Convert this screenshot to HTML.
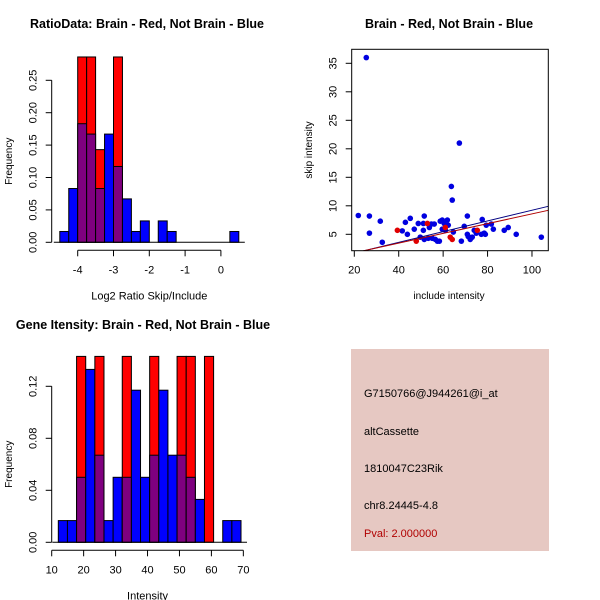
<!DOCTYPE html>
<html><head><meta charset="utf-8"><style>
body{margin:0;background:#fff}
svg{display:block;font-family:"Liberation Sans",sans-serif}
</style></head><body>
<svg id="s" width="600" height="600" viewBox="0 0 600 600">
<rect width="600" height="600" fill="#fff"/>
<text x="147" y="28" text-anchor="middle" font-size="12.5" font-weight="bold">RatioData: Brain - Red, Not Brain - Blue</text>
<text x="449" y="28" text-anchor="middle" font-size="12.5" font-weight="bold">Brain - Red, Not Brain - Blue</text>
<text x="143" y="329" text-anchor="middle" font-size="12.5" font-weight="bold">Gene Itensity: Brain - Red, Not Brain - Blue</text>
<g>
<rect x="351" y="349" width="198" height="202" fill="#e6c8c2"/>
<text x="364" y="397" font-size="11">G7150766@J944261@i_at</text>
<text x="364" y="435" font-size="11">altCassette</text>
<text x="364" y="472" font-size="11">1810047C23Rik</text>
<text x="364" y="509" font-size="11">chr8.24445-4.8</text>
<text x="364" y="537" font-size="11" fill="#b00000">Pval: 2.000000</text>
</g>
</svg>
<script>
// Ratio histogram data
const ratioBinStart = -4.5, ratioBinWidth = 0.25;
const ratioBlue = [0.0167,0.083,0.183,0.167,0.083,0.167,0.117,0.067,0.0167,0.033,0,0.033,0.0167,0,0,0,0,0,0,0.0167];
const ratioRed  = [0,0,0.286,0.286,0.143,0,0.286,0,0,0,0,0,0,0,0,0,0,0,0,0];
const ratioXTicks = [-4,-3,-2,-1,0];
const ratioYTicks = ["0.00","0.05","0.10","0.15","0.20","0.25"];
// Intensity histogram data
const intBinStart = 12.07, intBinWidth = 2.86;
const intBlue = [0.0167,0.0167,0.05,0.133,0.067,0.0167,0.05,0.05,0.117,0.05,0.067,0.117,0.067,0.067,0.05,0.033,0,0,0.0167,0.0167];
const intRed  = [0,0,0.143,0,0.143,0,0,0.143,0,0,0.143,0,0,0.143,0.143,0,0.143,0,0,0];
const intXTicks = [10,20,30,40,50,60,70];
const intYTicks = ["0.00","0.04","0.08","0.12"];
// Scatter data
const blueX = [21.8,25.4,26.8,26.8,31.7,32.6,41.6,43,43.9,45.2,47,48.8,49.7,51.1,51.5,51.1,51.5,53.3,53.8,54.7,55.1,56,56.5,57.4,58.3,58.7,59.6,59.6,60.5,61,61.9,62.3,63.7,64.1,64.6,67.3,68.2,69.5,70.9,70.9,71.3,72.2,73.1,74,74.9,77.6,77.2,78.5,79,79.4,81.7,82.6,87.5,89.3,92.9,104.2];
const blueY = [8.3,36,8.2,5.2,7.3,3.6,5.6,7.1,5,7.8,5.9,6.9,4.5,6.9,8.2,5.7,4.1,4.3,6.2,6.8,4.3,6.8,4.1,3.8,3.8,7.3,7.5,5.9,6.9,5.7,7.5,6.6,13.4,11,5.4,21,3.8,6.4,8.2,5,4.6,4.1,4.5,5.7,5.2,7.6,5,5.2,5,6.6,6.8,5.9,5.7,6.2,5,4.5];
const redX = [39.4,47.9,52.9,61,63.2,64.1,75.4];
const redY = [5.7,3.8,6.9,6.2,4.5,4.1,5.7];
const blueFit = [-0.18,0.094];
const redFit = [0.04,0.0854];
const scXTicks = [20,40,60,80,100];
const scYTicks = [5,10,15,20,25,30,35];

const NS="http://www.w3.org/2000/svg", svg=document.getElementById('s');
function mk(tag,attrs,parent){const e=document.createElementNS(NS,tag);for(const k in attrs)e.setAttribute(k,attrs[k]);(parent||svg).appendChild(e);return e;}
function txt(x,y,s,attrs,parent){const e=mk('text',Object.assign({x:x,y:y,'font-size':11,'text-anchor':'middle'},attrs||{}),parent);e.textContent=s;return e;}

function hist(o){
  const g=mk('g',{});
  
  
  const X=v=>o.x0+(v-o.xv0)*o.xs, Y=v=>o.base-v*o.ys;
  for(let i=0;i<o.blue.length;i++){
    const a=o.start+i*o.w, b=a+o.w, bl=o.blue[i], rd=o.red[i];
    const hi=Math.max(bl,rd), lo=Math.min(bl,rd);
    if(hi<=0) continue;
    const r=mk('rect',{x:X(a),y:Y(hi),width:X(b)-X(a),height:Y(0)-Y(hi),fill:rd>bl?'#ff0000':'#0000ff',stroke:'#000','stroke-width':1},g);
    
    
    if(lo>0){
      const p=mk('rect',{x:X(a),y:Y(lo),width:X(b)-X(a),height:Y(0)-Y(lo),fill:'#7f007f',stroke:'#000','stroke-width':1},g);
      
      
    }
  }
  mk('line',{x1:X(o.start)-6,x2:X(o.start+o.blue.length*o.w)+6,y1:o.base,y2:o.base,stroke:'#000'},g);
  const xa=mk('g',{},g);
  
  
  const xt=o.xticks, ay=o.base+8;
  mk('line',{x1:X(xt[0]),x2:X(xt[xt.length-1]),y1:ay,y2:ay,stroke:'#000'},xa);
  xt.forEach(t=>{mk('line',{x1:X(t),x2:X(t),y1:ay,y2:ay+6,stroke:'#000'},xa);txt(X(t),ay+23,String(t),{},xa);});
  txt((X(xt[0])+X(xt[xt.length-1]))/2,o.base+57,o.xlab,{'font-size':11},xa);
  const ya=mk('g',{},g);
  
  
  const yv=o.yticks.map(Number), ax=o.yaxisX;
  mk('line',{x1:ax,x2:ax,y1:Y(yv[0]),y2:Y(yv[yv.length-1]),stroke:'#000'},ya);
  o.yticks.forEach(t=>{const y=Y(Number(t));mk('line',{x1:ax-6,x2:ax,y1:y,y2:y,stroke:'#000'},ya);txt(ax-15,y,t,{transform:`rotate(-90 ${ax-15} ${y})`},ya);});
  const my=(Y(yv[0])+Y(yv[yv.length-1]))/2;
  txt(12,my,'Frequency',{'font-size':10,transform:`rotate(-90 12 ${my})`},ya);
}
hist({name:'ratio-histogram',blue:ratioBlue,red:ratioRed,start:ratioBinStart,w:ratioBinWidth,x0:77.7,xv0:-4,xs:35.8,base:242.3,ys:648,xticks:ratioXTicks,yticks:ratioYTicks,yaxisX:51.7,xlab:'Log2 Ratio Skip/Include'});
hist({name:'intensity-histogram',blue:intBlue,red:intRed,start:intBinStart,w:intBinWidth,x0:51.7,xv0:10,xs:3.194,base:542.3,ys:1300,xticks:intXTicks,yticks:intYTicks,yaxisX:51.7,xlab:'Intensity'});

(function(){
  const g=mk('g',{});
  
  
  const L=351.7,R=548.3,T=49.3,B=250.7;
  const X=v=>354.3+(v-20)*2.221, Y=v=>234.3-(v-5)*5.7;
  const cp=mk('clipPath',{id:'cp'},g);
  mk('rect',{x:L,y:T,width:R-L,height:B-T},cp);
  blueX.forEach((x,i)=>{const c=mk('circle',{cx:X(x),cy:Y(blueY[i]),r:2.8,fill:'#0000e0'},g);
    
    });
  redX.forEach((x,i)=>{const c=mk('circle',{cx:X(x),cy:Y(redY[i]),r:2.8,fill:'#e00000'},g);
    
    });
  const xmin=(L-354.3)/2.221+20, xmax=(R-354.3)/2.221+20;
  [[blueFit,'#000080','fit-line-not-brain'],[redFit,'#b00000','fit-line-brain']].forEach(([f,c,n])=>{
    const l=mk('line',{x1:X(xmin),y1:Y(f[0]+f[1]*xmin),x2:X(xmax),y2:Y(f[0]+f[1]*xmax),stroke:c,'stroke-width':1,'clip-path':'url(#cp)'},g);
    
    });
  mk('rect',{x:L,y:T,width:R-L,height:B-T,fill:'none',stroke:'#000'},g);
  const xa=mk('g',{},g);
  
  
  scXTicks.forEach(t=>{mk('line',{x1:X(t),x2:X(t),y1:B,y2:B+6,stroke:'#000'},xa);txt(X(t),B+23,String(t),{},xa);});
  txt(449,299,'include intensity',{'font-size':10},xa);
  const ya=mk('g',{},g);
  
  
  scYTicks.forEach(t=>{const y=Y(t);mk('line',{x1:L-6,x2:L,y1:y,y2:y,stroke:'#000'},ya);txt(L-15,y,String(t),{transform:`rotate(-90 ${L-15} ${y})`},ya);});
  txt(312,150,'skip intensity',{'font-size':10,transform:'rotate(-90 312 150)'},ya);
})();
</script>
</body></html>
